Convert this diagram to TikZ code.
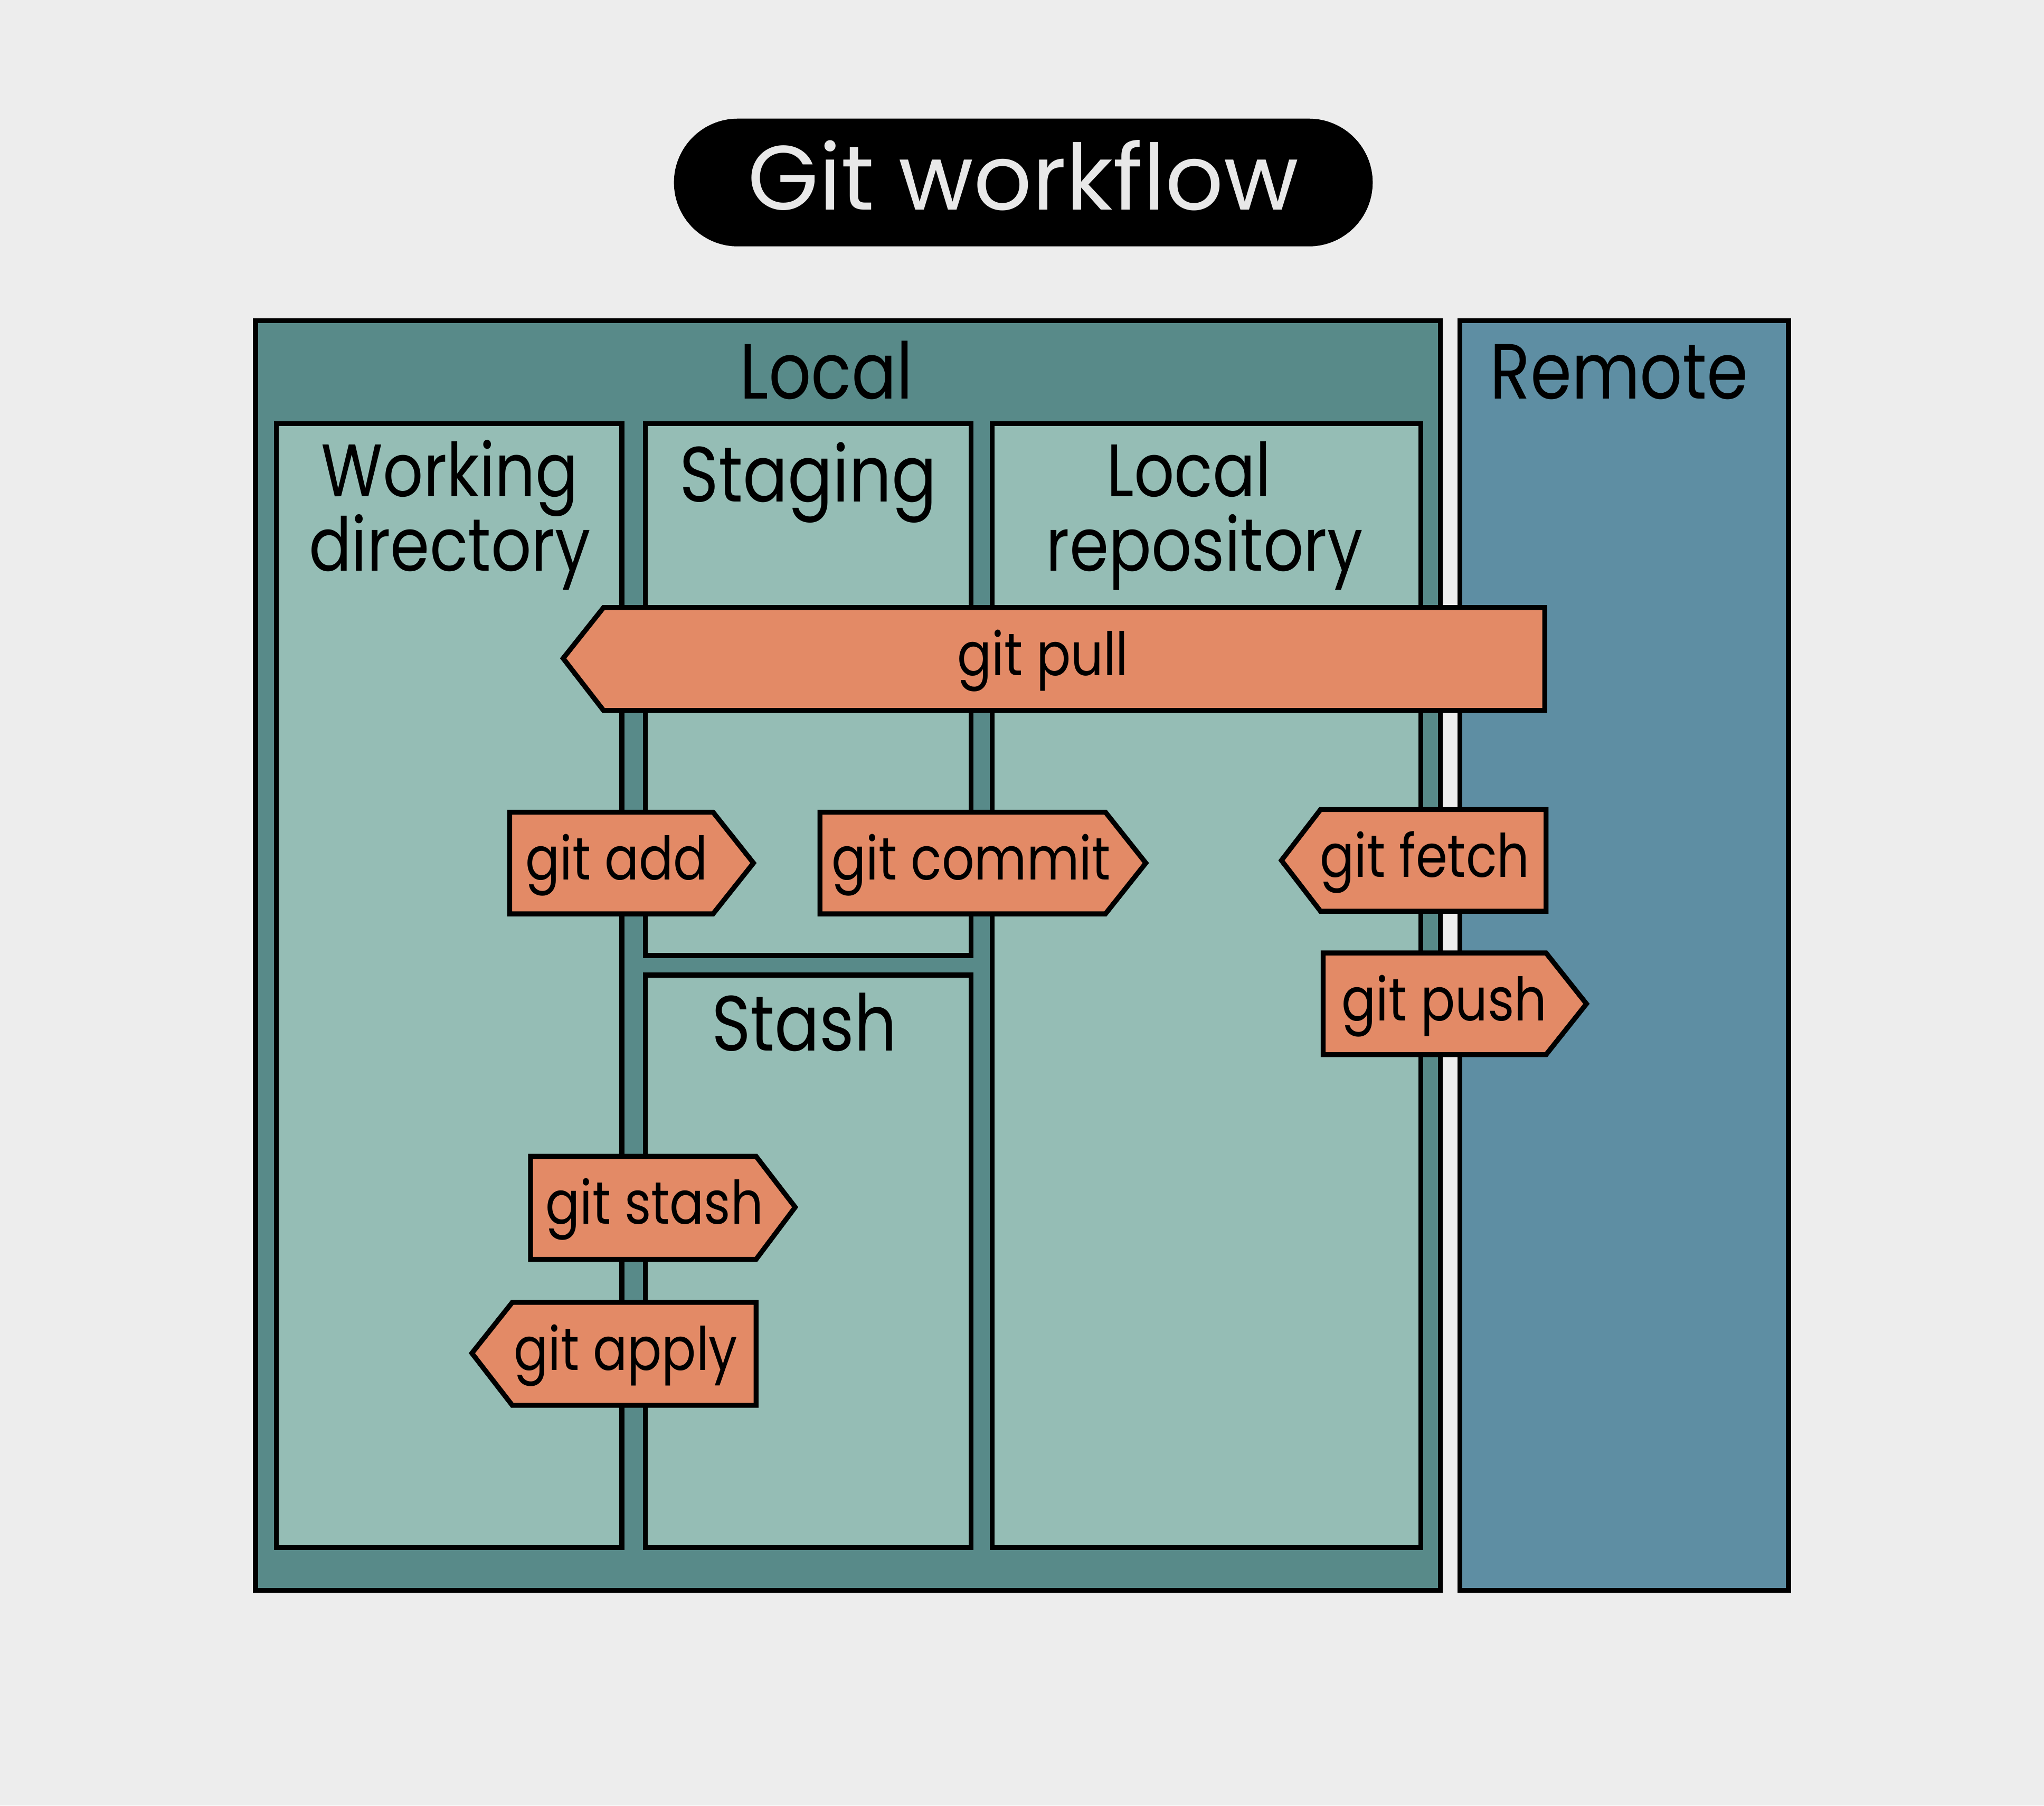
\documentclass[tikz,border=0pt]{standalone}
\usepackage{fontspec}
\setmainfont{Poppins}[FakeStretch=0.85]
\newfontfamily\titlefont{Poppins}
\definecolor{bgc}{HTML}{EDEDED}
\definecolor{localdark}{HTML}{588A89}
\definecolor{lightteal}{HTML}{95BDB5}
\definecolor{remoteblue}{HTML}{5E8EA3}
\definecolor{signorange}{HTML}{E38A66}
\definecolor{titletext}{HTML}{E8E8E8}
\begin{document}
\begin{tikzpicture}[x=1pt,y=-1pt,
  panel/.style={draw=black, line width=3.8pt, fill=lightteal, rectangle, inner sep=0pt, outer sep=0pt, anchor=north west},
  lbl/.style={font=\fontsize{60}{60}\selectfont, inner sep=0pt, anchor=base, text=black},
  lbltwo/.style={font=\fontsize{57}{57}\selectfont, inner sep=0pt, anchor=base, text=black},
  signbox/.style={draw=black, line width=3.8pt, fill=signorange, line join=miter},
  signtxt/.style={font=\fontsize{46}{46}\selectfont, inner sep=0pt, anchor=base, text=black}
]
\fill[bgc] (0,0) rectangle (1568,1385);
\useasboundingbox (0,0) rectangle (1568,1385);

% title
\node[fill=black, rounded corners=49pt, minimum width=536pt, minimum height=98pt, inner sep=0pt] (titlebox) at (785,140) {};
\node[font=\titlefont\fontsize{70}{70}\selectfont, text=titletext, anchor=base, inner sep=0pt] (title) at (785,161) {Git workflow};

% containers
\node[panel, fill=localdark, minimum width=909pt, minimum height=974pt] (local) at (196,246) {};
\node[panel, fill=remoteblue, minimum width=252pt, minimum height=974pt] (remote) at (1120,246) {};
\node[panel, minimum width=265pt, minimum height=862pt] (wd) at (212,325) {};
\node[panel, minimum width=250pt, minimum height=408pt] (stg) at (495,325) {};
\node[panel, minimum width=250pt, minimum height=439pt] (stash) at (495,748) {};
\node[panel, minimum width=329pt, minimum height=862pt] (repo) at (761,325) {};

% labels
\node[lbl] (locallbl) at (634,306) {Local};
\node[lbl] (remotelbl) at (1242,306) {Remote};
\node[lbltwo] (wdlbl1) at (345,381) {Working};
\node[lbltwo] (wdlbl2) at (345,438) {directory};
\node[lbl] (stglbl) at (620,385) {Staging};
\node[lbl] (stashlbl) at (617,806) {Stash};
\node[lbltwo] (repolbl1) at (912,381) {Local};
\node[lbltwo] (repolbl2) at (924,438) {repository};

% signs
\draw[signbox] (432,505) -- (463,466) -- (1185,466) -- (1185,545) -- (463,545) -- cycle;
\node[signtxt] (pull) at (800,518) {git pull};

\draw[signbox] (391,623) -- (547,623) -- (578,662) -- (547,701) -- (391,701) -- cycle;
\node[signtxt] (add) at (473,675) {git add};

\draw[signbox] (629,623) -- (848,623) -- (879,662) -- (848,701) -- (629,701) -- cycle;
\node[signtxt] (commit) at (745,675) {git commit};

\draw[signbox] (983,660) -- (1013,621) -- (1186,621) -- (1186,699) -- (1013,699) -- cycle;
\node[signtxt] (fetch) at (1093,673) {git fetch};

\draw[signbox] (1015,731) -- (1186,731) -- (1217,770) -- (1186,809) -- (1015,809) -- cycle;
\node[signtxt] (push) at (1108,783) {git push};

\draw[signbox] (407,887) -- (580,887) -- (610,926) -- (580,966) -- (407,966) -- cycle;
\node[signtxt] (stashcmd) at (502,939) {git stash};

\draw[signbox] (362,1038) -- (393,999) -- (580,999) -- (580,1078) -- (393,1078) -- cycle;
\node[signtxt] (apply) at (480,1051) {git apply};
\end{tikzpicture}
\end{document}
